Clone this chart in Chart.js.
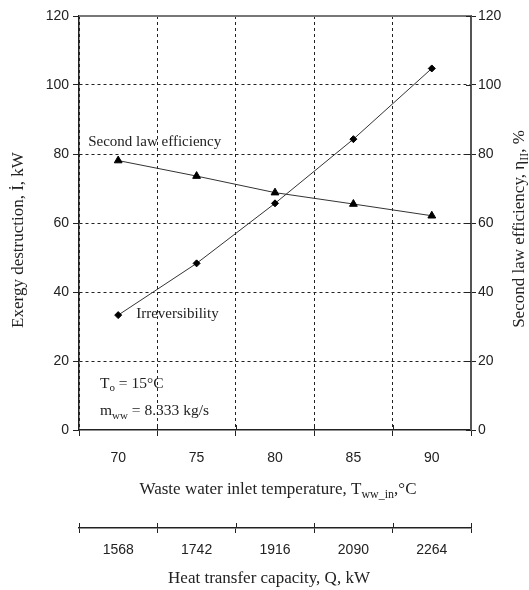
<!DOCTYPE html>
<html>
<head>
<meta charset="utf-8">
<script src="https://cdn.jsdelivr.net/npm/chart.js@4.4.1/dist/chart.umd.min.js"></script>
<style>
    html, body { margin: 0; padding: 0; background: #fff; }
    #wrap { width: 529px; height: 590px; }
</style>
</head>
<body>
<div id="wrap"><canvas id="chart" width="529" height="590"></canvas></div>
<script>
// data
const temps = ['70', '75', '80', '85', '90'];
const heatCap = ['1568', '1742', '1916', '2090', '2264'];
const irreversibility = [33.3, 48.3, 65.7, 84.3, 104.8];
const efficiency = [78.1, 73.6, 68.8, 65.5, 62.1];
const yTicks = [0, 20, 40, 60, 80, 100, 120];

const SERIF = '"Liberation Serif", "DejaVu Serif", serif';
const SANS = '"Liberation Sans", Arial, sans-serif';
const INK = '#222';

// draws text with subscript parts: parts = [[text, isSub], ...]
function drawRich(ctx, parts, x, y, size, align, rotate) {
    const subSize = Math.round(size * 0.68);
    let total = 0;
    parts.forEach(p => {
        ctx.font = (p[1] ? subSize : size) + 'px ' + SERIF;
        total += ctx.measureText(p[0]).width;
    });
    ctx.save();
    ctx.translate(x, y);
    if (rotate) ctx.rotate(rotate);
    ctx.fillStyle = INK;
    ctx.textBaseline = 'middle';
    ctx.textAlign = 'left';
    let cx = align === 'center' ? -total / 2 : 0;
    parts.forEach(p => {
        ctx.font = (p[1] ? subSize : size) + 'px ' + SERIF;
        ctx.fillText(p[0], cx, p[1] ? size * 0.3 : 0);
        cx += ctx.measureText(p[0]).width;
    });
    ctx.restore();
}

const decorPlugin = {
    id: 'decor',
    afterDraw(chart) {
        const ctx = chart.ctx;
        const area = chart.chartArea;
        const sx = chart.scales.x, sx2 = chart.scales.x2, sy = chart.scales.y, sy2 = chart.scales.y2;

        // top frame line
        ctx.save();
        ctx.strokeStyle = '#777';
        ctx.lineWidth = 2;
        ctx.beginPath();
        ctx.moveTo(area.left, area.top);
        ctx.lineTo(area.right, area.top);
        ctx.stroke();

        // tick marks that cross the axis lines
        ctx.strokeStyle = INK;
        ctx.lineWidth = 1;
        const half = (sx.getPixelForValue(1) - sx.getPixelForValue(0)) / 2;
        for (let i = 0; i < temps.length; i++) {
            const px = Math.round(sx.getPixelForValue(i) + half) + 0.5;
            if (i < temps.length - 1) {
                ctx.beginPath(); ctx.moveTo(px, sx.top); ctx.lineTo(px, sx.top - 5); ctx.stroke();
            }
            const px2 = Math.round(sx2.getPixelForValue(i) - half) + 0.5;
            ctx.beginPath(); ctx.moveTo(px2, sx2.top); ctx.lineTo(px2, sx2.top - 5); ctx.stroke();
        }
        const last = Math.round(sx2.getPixelForValue(heatCap.length - 1) + half) + 0.5;
        ctx.beginPath(); ctx.moveTo(last, sx2.top); ctx.lineTo(last, sx2.top - 5); ctx.stroke();
        yTicks.forEach(v => {
            const py = Math.round(sy2.getPixelForValue(v)) + 0.5;
            ctx.beginPath(); ctx.moveTo(sy2.left, py); ctx.lineTo(sy2.left - 5, py); ctx.stroke();
        });
        ctx.restore();

        // axis titles
        drawRich(ctx, [['Exergy destruction, İ, kW', false]], 19, 240, 17, 'center', -Math.PI / 2);
        drawRich(ctx, [['Second law efficiency, η', false], ['II', true], [', %', false]], 520, 229, 17, 'center', -Math.PI / 2);
        drawRich(ctx, [['Waste water inlet temperature, T', false], ['ww_in', true], [',°C', false]],
            (area.left + area.right) / 2 + 3, sx.top + 60, 17, 'center');
        drawRich(ctx, [['Heat transfer capacity, Q, kW', false]],
            (area.left + area.right) / 2 - 6, sx2.top + 51, 17, 'center');

        // in-plot labels
        const x0 = sx.getPixelForValue(0);
        drawRich(ctx, [['Second law efficiency', false]], x0 - 30, sy.getPixelForValue(83.5), 15, 'left');
        drawRich(ctx, [['Irreversibility', false]], x0 + 18, sy.getPixelForValue(33.6), 15, 'left');
        drawRich(ctx, [['T', false], ['o', true], [' = 15°C', false]], area.left + 21, sy.getPixelForValue(13.4), 15.5, 'left');
        drawRich(ctx, [['m', false], ['ww', true], [' = 8.333 kg/s', false]], area.left + 21, sy.getPixelForValue(5.4), 15.5, 'left');
    }
};

const tickFont = { family: SANS, size: 14 };
const ctx = document.getElementById('chart').getContext('2d');
new Chart(ctx, {
    type: 'line',
    data: {
        labels: temps,
        datasets: [{
            label: 'Irreversibility',
            data: irreversibility,
            xAxisID: 'x',
            yAxisID: 'y',
            borderColor: '#333',
            borderWidth: 1,
            pointStyle: 'rectRot',
            pointRadius: 3.5,
            pointBackgroundColor: '#000',
            pointBorderColor: '#000',
            tension: 0
        }, {
            label: 'Second law efficiency',
            data: efficiency,
            xAxisID: 'x',
            yAxisID: 'y2',
            borderColor: '#333',
            borderWidth: 1,
            pointStyle: 'triangle',
            pointRadius: 4.5,
            pointBackgroundColor: '#000',
            pointBorderColor: '#000',
            tension: 0
        }]
    },
    options: {
        responsive: false,
        animation: false,
        events: [],
        layout: { padding: { top: 16, left: 0, right: 0, bottom: 0 } },
        plugins: { legend: { display: false }, tooltip: { enabled: false } },
        scales: {
            x: {
                type: 'category',
                position: 'bottom',
                weight: 1,
                offset: true,
                grid: {
                    offset: true,
                    color: INK,
                    lineWidth: 1,
                    tickLength: 6,
                    tickColor: INK
                },
                border: { color: INK, width: 1.5, dash: [3, 3] },
                ticks: { font: tickFont, color: INK, padding: 14 },
                afterFit: s => { s.height = 98; }
            },
            x2: {
                type: 'category',
                position: 'bottom',
                weight: 2,
                labels: heatCap,
                offset: true,
                grid: {
                    offset: true,
                    drawOnChartArea: false,
                    color: INK,
                    tickLength: 5,
                    tickColor: INK
                },
                border: { color: INK, width: 1.5 },
                ticks: { font: tickFont, color: INK, padding: 9 },
                afterFit: s => { s.height = 62; }
            },
            y: {
                position: 'left',
                min: yTicks[0],
                max: yTicks[yTicks.length - 1],
                ticks: { stepSize: yTicks[1] - yTicks[0], font: tickFont, color: INK, padding: 4 },
                grid: {
                    color: c => (c.tick && (c.tick.value === yTicks[0] || c.tick.value === yTicks[yTicks.length - 1])) ? 'rgba(0,0,0,0)' : INK,
                    lineWidth: 1,
                    tickLength: 6,
                    tickColor: INK
                },
                border: { color: INK, width: 1.5, dash: [3, 3] },
                afterFit: s => { s.width = 79; }
            },
            y2: {
                position: 'right',
                min: yTicks[0],
                max: yTicks[yTicks.length - 1],
                ticks: { stepSize: yTicks[1] - yTicks[0], font: tickFont, color: INK, padding: 2 },
                grid: { drawOnChartArea: false, tickLength: 5, tickColor: INK, color: INK },
                border: { color: '#555', width: 2 },
                afterFit: s => { s.width = 58; }
            }
        }
    },
    plugins: [decorPlugin]
});
</script>
</body>
</html>
